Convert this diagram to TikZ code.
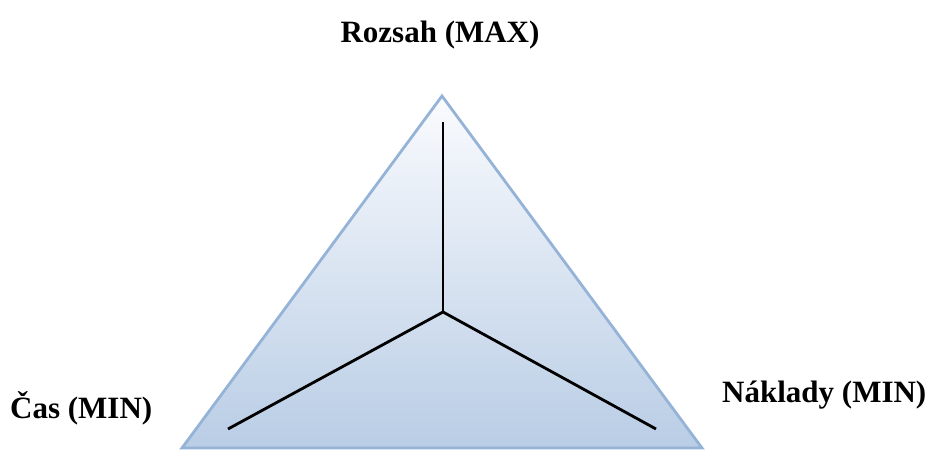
\documentclass[tikz,border=0pt]{standalone}
\usepackage{fontspec}
\setmainfont{Liberation Serif}
\definecolor{edgeblue}{HTML}{95B3D7}
\definecolor{fillbot}{HTML}{B9CDE5}
\definecolor{filltop}{HTML}{FAFBFE}
\tikzset{
  lbl/.style={font=\fontsize{31}{37}\selectfont\bfseries, inner sep=0pt},
  axis/.style={draw=black, line width=2.8pt},
}
\begin{document}
\begin{tikzpicture}[x=1pt,y=1pt]
\useasboundingbox (0,0) rectangle (934,450);
\coordinate (apex) at (442,354);
\coordinate (bl) at (182,2);
\coordinate (br) at (702,2);
\shade[top color=filltop, bottom color=fillbot] (apex) -- (bl) -- (br) -- cycle;
\draw[edgeblue, line width=2.8pt, line join=miter] (apex) -- (bl) -- (br) -- cycle;
\coordinate (c) at (443,138);
\coordinate (top) at (443,328);
\coordinate (le) at (228,21);
\coordinate (re) at (656,21);
\draw[axis] (top) -- (c);
\draw[axis] (le) -- (c) -- (re);
\node[lbl, anchor=base] (rozsah) at (440,407) {Rozsah (MAX)};
\node[lbl, anchor=base west] (cas) at (10,32) {Čas (MIN)};
\node[lbl, anchor=base west] (naklady) at (722,48) {Náklady (MIN)};
\end{tikzpicture}
\end{document}
